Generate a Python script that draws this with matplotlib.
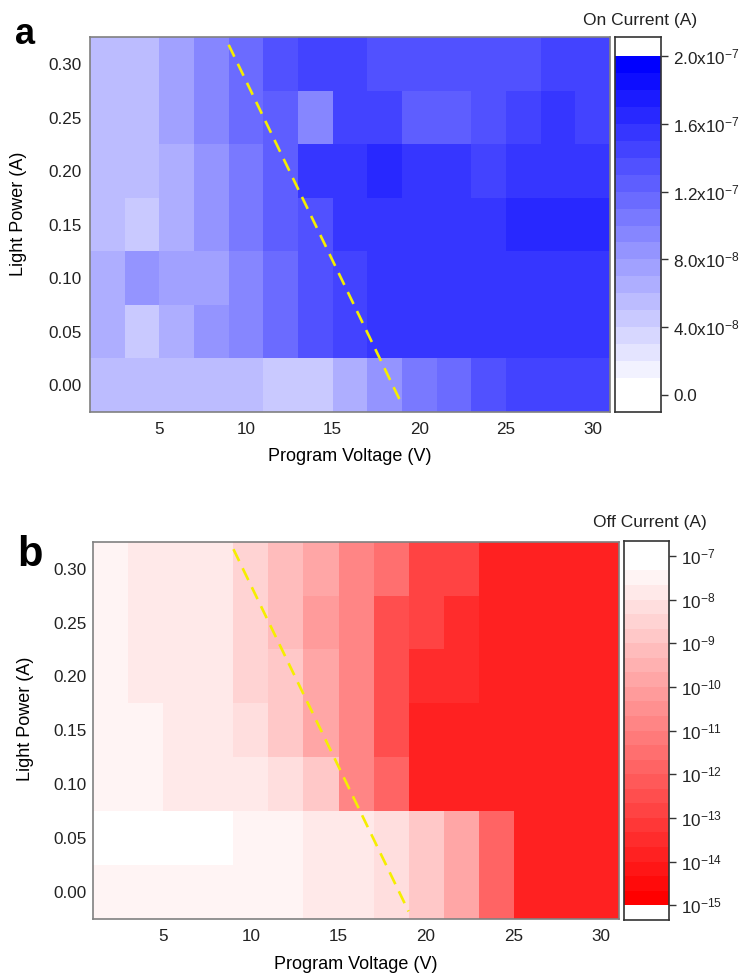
import numpy as np
import matplotlib
matplotlib.use("Agg")
import matplotlib.pyplot as plt
from matplotlib.colors import ListedColormap, BoundaryNorm
from matplotlib.ticker import NullLocator

plt.rcParams['font.family'] = ['Liberation Sans', 'DejaVu Sans']
plt.rcParams['mathtext.default'] = 'regular'
plt.rcParams['text.color'] = '#222222'
plt.rcParams['xtick.color'] = '#222222'
plt.rcParams['ytick.color'] = '#222222'

# program voltage (V) columns, light power rows
voltage = [2, 4, 6, 8, 10, 12, 14, 16, 18, 20, 22, 24, 26, 28, 30]
power = [0.00, 0.05, 0.10, 0.15, 0.20, 0.25, 0.30]

# on current in nA, rows from power 0.00 up to 0.30
on_current_nA = [
    [55, 55, 55, 55, 55, 45, 45, 65, 85, 105, 115, 135, 145, 145, 145],
    [65, 45, 65, 85, 95, 115, 135, 145, 155, 155, 155, 155, 155, 155, 155],
    [65, 85, 75, 75, 95, 115, 135, 145, 155, 155, 155, 155, 155, 155, 155],
    [55, 45, 65, 85, 105, 125, 135, 155, 155, 155, 155, 155, 165, 165, 165],
    [55, 55, 65, 85, 105, 125, 155, 155, 165, 155, 155, 145, 155, 155, 155],
    [55, 55, 75, 95, 115, 125, 95, 145, 145, 125, 125, 135, 145, 155, 145],
    [55, 55, 75, 95, 115, 135, 145, 145, 135, 135, 135, 135, 135, 145, 145],
]

# off current in A, rows from power 0.00 up to 0.30
off_current = [
    [3e-8, 3e-8, 3e-8, 3e-8, 3e-8, 3e-8, 1.5e-8, 1.5e-8, 7e-9, 1.5e-9, 1.5e-10, 1.5e-12, 1.5e-14, 1.5e-14, 1.5e-14],
    [7e-8, 7e-8, 7e-8, 7e-8, 3e-8, 3e-8, 1.5e-8, 1.5e-8, 7e-9, 1.5e-9, 1.5e-10, 1.5e-12, 1.5e-14, 1.5e-14, 1.5e-14],
    [3e-8, 3e-8, 1.5e-8, 1.5e-8, 1.5e-8, 7e-9, 1.5e-9, 1.5e-11, 1.5e-12, 1.5e-14, 1.5e-14, 1.5e-14, 1.5e-14, 1.5e-14, 1.5e-14],
    [3e-8, 3e-8, 1.5e-8, 1.5e-8, 7e-9, 1.5e-9, 1.5e-10, 1.5e-11, 3e-13, 1.5e-14, 1.5e-14, 1.5e-14, 1.5e-14, 1.5e-14, 1.5e-14],
    [3e-8, 1.5e-8, 1.5e-8, 1.5e-8, 3e-9, 1.5e-9, 1.5e-10, 1.5e-11, 3e-13, 3e-14, 3e-14, 1.5e-14, 1.5e-14, 1.5e-14, 1.5e-14],
    [3e-8, 1.5e-8, 1.5e-8, 1.5e-8, 3e-9, 7e-10, 7e-11, 1.5e-11, 3e-13, 1.5e-13, 3e-14, 1.5e-14, 1.5e-14, 1.5e-14, 1.5e-14],
    [3e-8, 1.5e-8, 1.5e-8, 1.5e-8, 3e-9, 7e-10, 1.5e-10, 1.5e-11, 3e-12, 1.5e-13, 1.5e-13, 1.5e-14, 1.5e-14, 1.5e-14, 1.5e-14],
]

on_ticks = [0, 4e-8, 8e-8, 1.2e-7, 1.6e-7, 2.0e-7]
on_tick_labels = ['0.0', '4.0x10$^{-8}$', '8.0x10$^{-8}$', '1.2x10$^{-7}$',
                  '1.6x10$^{-7}$', '2.0x10$^{-7}$']
off_ticks = [1e-7, 1e-8, 1e-9, 1e-10, 1e-11, 1e-12, 1e-13, 1e-14, 1e-15]
off_tick_labels = ['10$^{-7}$', '10$^{-8}$', '10$^{-9}$', '10$^{-10}$', '10$^{-11}$',
                   '10$^{-12}$', '10$^{-13}$', '10$^{-14}$', '10$^{-15}$']

# dashed yellow boundary line (V, power)
line_v = [9, 19]
line_p = [0.318, -0.018]


def edges(c):
    c = np.asarray(c, dtype=float)
    step = c[1] - c[0]
    return np.append(c - step / 2, c[-1] + step / 2)


# discrete colour bands
on_levels = np.arange(0, 21) * 1e-8
t = np.linspace(0, 1, 20)
on_cmap = ListedColormap([(1 - a, 1 - a, 1) for a in t])
on_norm = BoundaryNorm(on_levels, 20)

off_levels = 10 ** np.linspace(-15, -7, 25)
t = np.linspace(0, 1, 24)
off_cmap = ListedColormap([(1, a, a) for a in t])
off_norm = BoundaryNorm(off_levels, 24)

fig = plt.figure(figsize=(7.46, 9.77), dpi=100)
ax_a = fig.add_axes([0.1206, 0.5783, 0.6971, 0.3835])
cax_a = fig.add_axes([0.8248, 0.5783, 0.0609, 0.3835])
ax_b = fig.add_axes([0.1251, 0.0594, 0.7043, 0.3862])
cax_b = fig.add_axes([0.836, 0.0583, 0.0607, 0.3879])

on_vals = np.array(on_current_nA) * 1e-9
off_vals = np.array(off_current)

for ax, data, cmap, norm, pad_y, ylab_x in [(ax_a, on_vals, on_cmap, on_norm, 6, -0.121),
                                            (ax_b, off_vals, off_cmap, off_norm, 5, -0.113)]:
    ax.pcolormesh(edges(voltage), edges(power), data, cmap=cmap, norm=norm,
                  shading='flat', antialiased=False, edgecolors='face', linewidth=0)
    ax.plot(line_v, line_p, color='#f5ee00', lw=1.9, ls=(0, (5, 3)))
    ax.set_xlim(1, 31)
    ax.set_ylim(-0.025, 0.325)
    ax.set_xticks([5, 10, 15, 20, 25, 30])
    ax.set_yticks(power)
    ax.set_yticklabels(['%.2f' % p for p in power])
    ax.tick_params(axis='both', length=0, labelsize=12.3)
    ax.tick_params(axis='x', pad=7)
    ax.tick_params(axis='y', pad=pad_y)
    for s in ax.spines.values():
        s.set_color('#808080')
        s.set_linewidth(1.2)
    ax.set_xlabel('Program Voltage (V)', fontsize=13)
    ax.set_ylabel('Light Power (A)', fontsize=13)
    ax.xaxis.set_label_coords(0.5, -0.097)
    ax.yaxis.set_label_coords(ylab_x, 0.53)

# colour bars drawn as band strips
cax_a.pcolormesh([0, 1], on_levels, ((on_levels[:-1] + on_levels[1:]) / 2).reshape(-1, 1),
                 cmap=on_cmap, norm=on_norm, shading='flat', antialiased=False)
cax_a.set_ylim(-1e-8, 2.11e-7)
cax_a.set_yticks(on_ticks)
cax_a.set_yticklabels(on_tick_labels)

mid = np.sqrt(off_levels[:-1] * off_levels[1:])
cax_b.set_yscale('log')
cax_b.pcolormesh([0, 1], off_levels, mid.reshape(-1, 1),
                 cmap=off_cmap, norm=off_norm, shading='flat', antialiased=False)
cax_b.set_ylim(10 ** -15.34, 10 ** -6.66)
cax_b.set_yticks(off_ticks)
cax_b.set_yticklabels(off_tick_labels)
cax_b.yaxis.set_minor_locator(NullLocator())

for cax in (cax_a, cax_b):
    cax.set_xlim(0, 1)
    cax.set_xticks([])
    cax.yaxis.tick_right()
    cax.tick_params(axis='y', length=5, width=1, pad=4, labelsize=12.3, color='#333333')
    for s in cax.spines.values():
        s.set_color('#333333')
        s.set_linewidth(1.2)

fig.text(697 / 746, 1 - 21 / 977, 'On Current (A)', ha='right', va='center', fontsize=12.5)
fig.text(707 / 746, 1 - 522 / 977, 'Off Current (A)', ha='right', va='center', fontsize=12.5)
fig.text(15 / 746, 1 - 44 / 977, 'a', ha='left', va='baseline', fontsize=26, fontweight='bold', color='black')
fig.text(17 / 746, 1 - 566 / 977, 'b', ha='left', va='baseline', fontsize=30, fontweight='bold', color='black')

fig.savefig('out.png', dpi=100)
